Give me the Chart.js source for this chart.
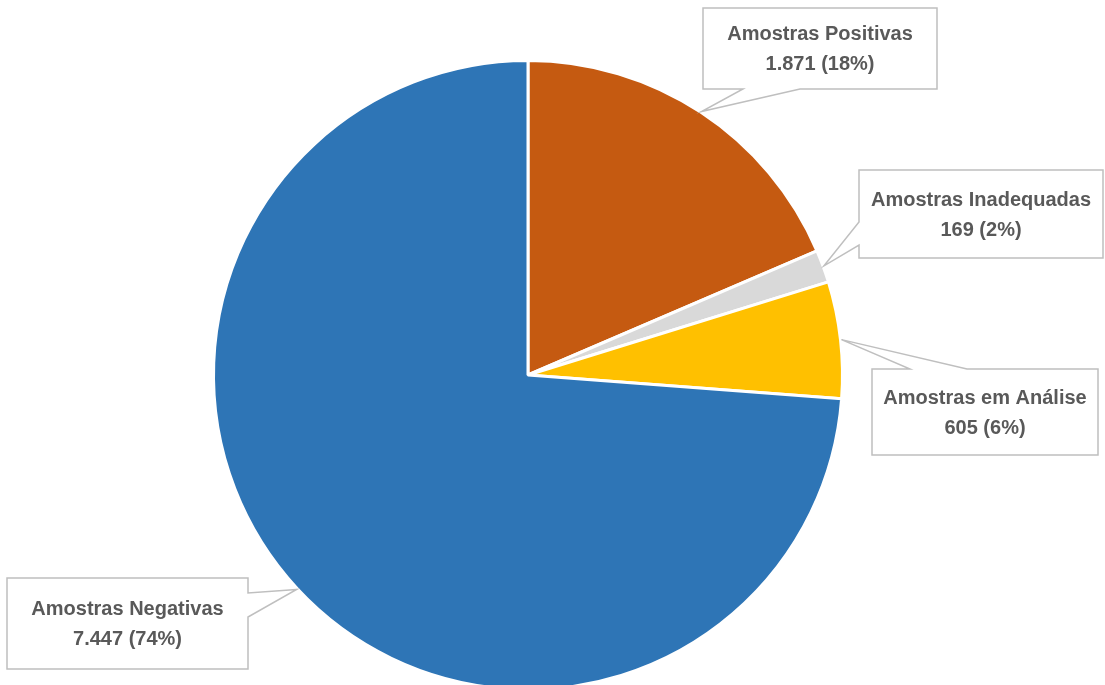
<!DOCTYPE html>
<html>
<head>
<meta charset="utf-8">
<script src="https://cdn.jsdelivr.net/npm/chart.js@4.4.1/dist/chart.umd.min.js"></script>
<style>
  html, body { margin: 0; padding: 0; background: #ffffff; overflow: hidden; width: 1105px; height: 685px; }
  #wrap { position: absolute; left: 0; top: 0; width: 1105px; height: 700px; }
</style>
</head>
<body>
<div id="wrap"><canvas id="c" width="1105" height="700"></canvas></div>
<script>
// ---- data ----
const categories = ['Amostras Positivas', 'Amostras Inadequadas', 'Amostras em Análise', 'Amostras Negativas'];
const values = [1871, 169, 605, 7447];
const percentLabels = [18, 2, 6, 74];
const sliceColors = ['#C55A11', '#D9D9D9', '#FFC000', '#2E75B6'];

// ---- label callout layout (styling only) ----
const calloutBoxes = [
  { x: 703, y: 8,   w: 234, h: 81, side: 'bottom', a: 40, b: 97 },
  { x: 859, y: 170, w: 244, h: 88, side: 'left',   a: 52, b: 75 },
  { x: 872, y: 369, w: 226, h: 86, side: 'top',    a: 38, b: 95 },
  { x: 7,   y: 578, w: 241, h: 91, side: 'right',  a: 15, b: 39 }
];

function fmtThousands(n) {
  return String(n).replace(/\B(?=(\d{3})+(?!\d))/g, '.');
}

const calloutPlugin = {
  id: 'callouts',
  afterDraw(chart) {
    const ctx = chart.ctx;
    const meta = chart.getDatasetMeta(0);
    meta.data.forEach((arc, i) => {
      const box = calloutBoxes[i];
      const mid = (arc.startAngle + arc.endAngle) / 2;
      const r = arc.outerRadius + 1;
      const tx = arc.x + Math.cos(mid) * r;
      const ty = arc.y + Math.sin(mid) * r;
      const L = box.x, T = box.y, R = box.x + box.w, B = box.y + box.h;
      ctx.save();
      ctx.beginPath();
      ctx.moveTo(L, T);
      if (box.side === 'top') { ctx.lineTo(L + box.a, T); ctx.lineTo(tx, ty); ctx.lineTo(L + box.b, T); }
      ctx.lineTo(R, T);
      if (box.side === 'right') { ctx.lineTo(R, T + box.a); ctx.lineTo(tx, ty); ctx.lineTo(R, T + box.b); }
      ctx.lineTo(R, B);
      if (box.side === 'bottom') { ctx.lineTo(L + box.b, B); ctx.lineTo(tx, ty); ctx.lineTo(L + box.a, B); }
      ctx.lineTo(L, B);
      if (box.side === 'left') { ctx.lineTo(L, T + box.b); ctx.lineTo(tx, ty); ctx.lineTo(L, T + box.a); }
      ctx.closePath();
      ctx.fillStyle = '#ffffff';
      ctx.fill();
      ctx.strokeStyle = '#BFBFBF';
      ctx.lineWidth = 1.5;
      ctx.stroke();

      ctx.fillStyle = '#595959';
      ctx.font = 'bold 20px "Liberation Sans", Arial, sans-serif';
      ctx.textAlign = 'center';
      ctx.textBaseline = 'middle';
      const cx = L + box.w / 2, cy = T + box.h / 2;
      ctx.fillText(categories[i], cx, cy - 14);
      ctx.fillText(fmtThousands(values[i]) + ' (' + percentLabels[i] + '%)', cx, cy + 16);
      ctx.restore();
    });
  }
};

new Chart(document.getElementById('c'), {
  type: 'pie',
  data: {
    labels: categories,
    datasets: [{
      data: values,
      backgroundColor: sliceColors,
      borderColor: '#ffffff',
      borderWidth: 3
    }]
  },
  options: {
    responsive: false,
    animation: false,
    devicePixelRatio: 1,
    layout: { padding: { top: 59, bottom: 9, left: 212, right: 261 } },
    plugins: { legend: { display: false }, tooltip: { enabled: false } }
  },
  plugins: [calloutPlugin]
});
</script>
</body>
</html>
